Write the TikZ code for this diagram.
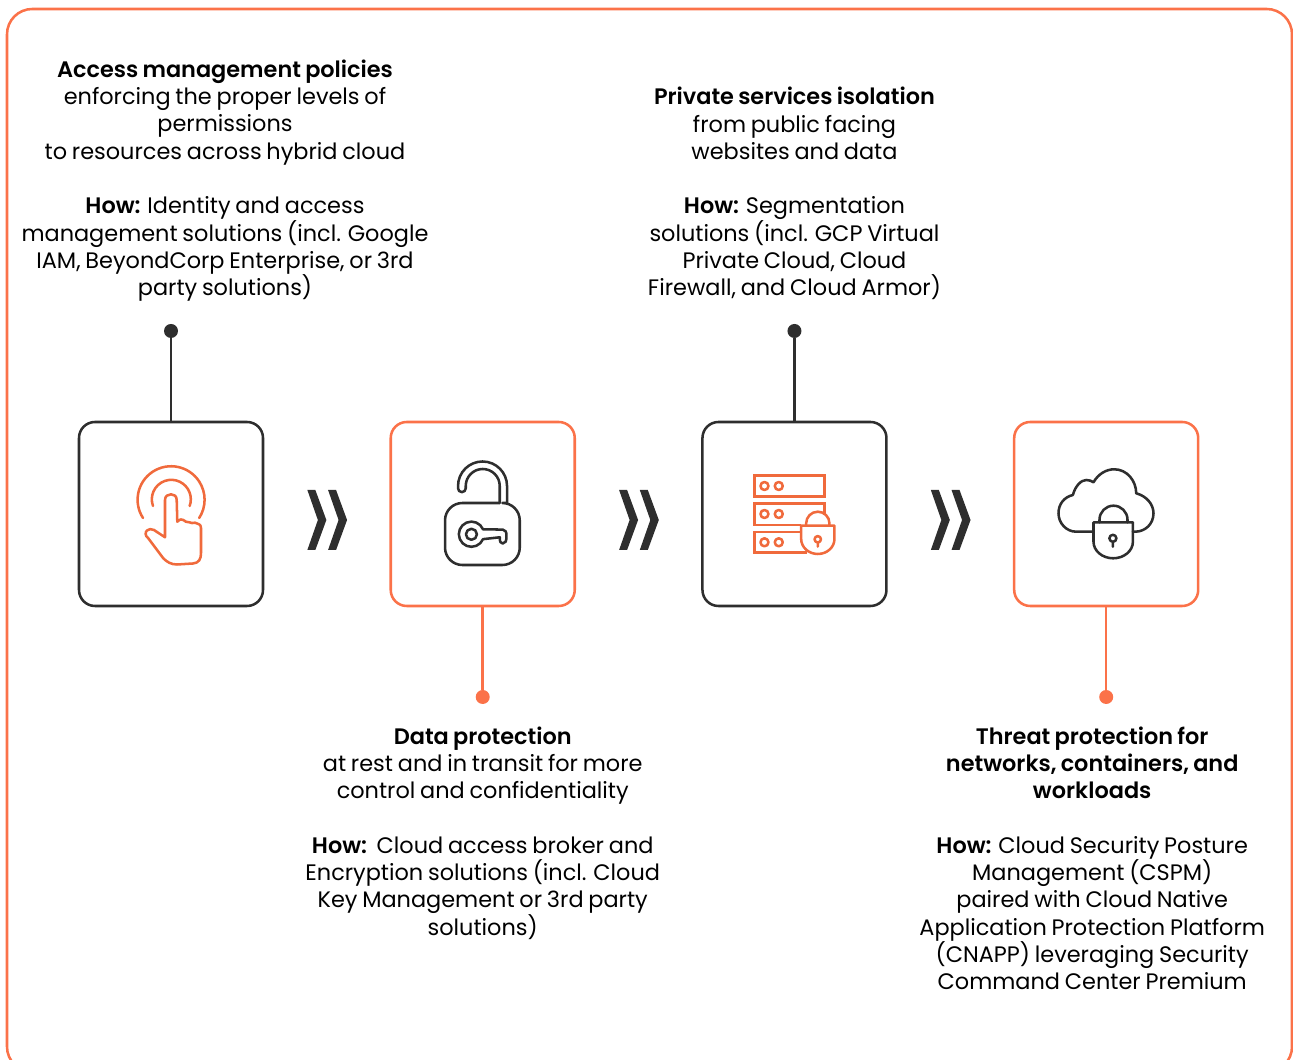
\documentclass[tikz,border=0pt]{standalone}
\usepackage{fontspec}
\setmainfont[WordSpace=0.8,BoldFont={Poppins SemiBold}]{Poppins}
\usepackage{tikz}
\usetikzlibrary{calc,positioning}

\definecolor{orangeline}{HTML}{FB7249}
\definecolor{orangeicon}{HTML}{F06A3C}
\definecolor{darkline}{HTML}{2E2E2E}

\tikzset{
  iconline/.style={line width=1.9pt,line cap=round,line join=round},
  tile/.style={draw,line width=1.9pt,rounded corners=12pt,minimum size=138pt,inner sep=0pt},
  dot/.style={circle,fill,inner sep=0pt,minimum size=10.5pt},
  stem/.style={line width=1.9pt},
  blurb/.style={align=center,font=\fontsize{16.8}{20.45}\selectfont,text=black,inner sep=0pt},
  chevrons/.pic={
    \fill[darkline] (-19.5,30) -- (-11.5,30) -- (-0.5,0) -- (-11.5,-30) -- (-19.5,-30) -- (-9,0) -- cycle;
    \fill[darkline] (1.2,30) -- (9.2,30) -- (20.2,0) -- (9.2,-30) -- (1.2,-30) -- (11.7,0) -- cycle;
  },
  handicon/.pic={
    \draw[iconline,orangeicon] (-28,-4) arc[start angle=213,end angle=-33,radius=33.5];
    \draw[iconline,orangeicon] (-18,8) arc[start angle=200,end angle=-20,radius=19.5];
    \draw[iconline,orangeicon] (-6,-23.3) -- (-6,14) .. controls (-6,18) and (-3,19.7) .. (0,19.7)
      .. controls (3,19.7) and (5.7,18) .. (5.7,14) -- (6.3,-7.7) .. controls (9,-5) and (11,-5) .. (12.3,-6)
      .. controls (14,-8) and (16,-8) .. (18.3,-8.3) .. controls (20,-9.5) and (22,-9) .. (24,-8.7)
      .. controls (27,-10) and (30,-10) .. (30,-14) -- (30,-39) .. controls (30,-45) and (28,-49) .. (22,-49.5)
      -- (6,-50.5) .. controls (0,-50.5) and (-4,-48) .. (-7.7,-44.3) -- (-22.7,-24.3)
      .. controls (-26,-22) and (-26,-18) .. (-24,-16.5) .. controls (-22,-14.5) and (-20,-15) .. (-17,-16) -- cycle;
  },
  lockicon/.pic={
    \draw[iconline,darkline,rounded corners=13pt] (17,11) -- (-37.7,11) -- (-37.7,-51) -- (37,-51) -- (37,11) -- (24.3,11);
    \draw[iconline,darkline] (24.3,11) -- (24.3,28) arc[start angle=0,end angle=180,radius=24.5] -- (-24.7,25.7)
      arc[start angle=180,end angle=360,radius=3.85] -- (-17,28) arc[start angle=180,end angle=0,radius=17] -- (17,11);
    \draw[iconline,darkline] (-11.3,-20.3) circle[radius=5.5];
    \draw[iconline,darkline] (0.3,-15.3) arc[start angle=23,end angle=337,radius=12.6] -- (17,-23.3)
      .. controls (17,-28) and (18,-29.5) .. (20,-29.5) .. controls (23,-29.5) and (23.7,-27) .. (23.7,-22)
      .. controls (23.7,-18) and (23,-15.8) .. (20,-15.6) -- cycle;
  },
  servericon/.pic={
    \draw[iconline,orangeicon,line cap=butt,line join=miter] (-40,38.7) rectangle (30,17.7);
    \draw[iconline,orangeicon,line cap=butt,line join=miter] (30,-1) -- (30,10.3) -- (-40,10.3) -- (-40,-11) -- (6.7,-11);
    \draw[iconline,orangeicon,line cap=butt,line join=miter] (6.7,-18) -- (-40,-18) -- (-40,-38.3) -- (13,-38.3);
    \foreach \rowy in {28,0,-28.3} {
      \draw[iconline,orangeicon] (-30,\rowy) circle[radius=4] (-15.7,\rowy) circle[radius=4];
    }
    \draw[iconline,orangeicon] (6.7,-11.7) -- (40,-11.7) -- (40,-25)
      arc[start angle=0,end angle=-180,x radius=16.65,y radius=15] -- cycle;
    \draw[iconline,orangeicon] (11.7,-11.7) -- (11.7,-9.35) arc[start angle=180,end angle=0,radius=11.65] -- (35,-11.7);
    \draw[iconline,orangeicon] (23.3,-25.3) circle[radius=3.2] (23.3,-28.5) -- (23.3,-32.7);
  },
  cloudicon/.pic={
    \draw[iconline,darkline] (-12.7,-17.7) -- (-30,-17.7) .. controls (-40,-17.7) and (-47.7,-9) .. (-47.7,0.7)
      .. controls (-47.7,10) and (-42,17) .. (-33.3,19) .. controls (-31,28) and (-25,34) .. (-20,34)
      .. controls (-17,34) and (-14.5,33) .. (-12.7,31.7) .. controls (-8,40) and (0,44.7) .. (8,44.7)
      .. controls (21,44.7) and (30,33) .. (30,20.7) .. controls (40,18) and (47.3,10) .. (47.3,0.7)
      .. controls (47.3,-10) and (39,-17.7) .. (29,-17.7) -- (26.7,-17.7);
    \draw[iconline,darkline] (-12.7,-8.3) -- (26.7,-8.3) -- (26.7,-27.7)
      arc[start angle=0,end angle=-180,x radius=19.7,y radius=16.6] -- cycle;
    \draw[iconline,darkline] (-6.7,-8.3) -- (-6.7,-5.7) arc[start angle=180,end angle=0,radius=14] -- (21.3,-8.3);
    \draw[iconline,darkline] (6.7,-24.3) circle[radius=3.5] (6.7,-27.8) -- (6.7,-32.7);
  }
}

\begin{document}
\begin{tikzpicture}[x=0.75pt,y=0.75pt,on grid,node distance=233.8pt]
  \clip (0,0) rectangle (1293,1060);
  \draw[orangeline,line width=1.9pt,rounded corners=19pt] (7,-12) rectangle (1292,1051);

  \node[tile,darkline]   (box_0) at (171,546)   {};
  \node[tile,orangeline] (box_1) [right=of box_0] {};
  \node[tile,darkline]   (box_2) [right=of box_1] {};
  \node[tile,orangeline] (box_3) [right=of box_2] {};

  \node[dot,darkline]   (dot_0) [above=137.25pt of box_0] {};
  \node[dot,orangeline] (dot_1) [below=137.25pt of box_1] {};
  \node[dot,darkline]   (dot_2) [above=137.25pt of box_2] {};
  \node[dot,orangeline] (dot_3) [below=137.25pt of box_3] {};

  \path[stem,darkline]   (box_0) edge (dot_0);
  \path[stem,orangeline] (box_1) edge (dot_1);
  \path[stem,darkline]   (box_2) edge (dot_2);
  \path[stem,orangeline] (box_3) edge (dot_3);

  \pic at (box_0) {handicon};
  \pic at (box_1) {lockicon};
  \pic at (box_2) {servericon};
  \pic at (box_3) {cloudicon};

  \pic[yshift=-4.5pt] at ($(box_0)!0.5!(box_1)$) {chevrons};
  \pic[yshift=-4.5pt] at ($(box_1)!0.5!(box_2)$) {chevrons};
  \pic[yshift=-4.5pt] at ($(box_2)!0.5!(box_3)$) {chevrons};

  \node[blurb] (text_0) [above right=112.75pt and 40.5pt of dot_0]
    {\textbf{Access management policies}\\enforcing the proper levels of\\permissions\\to resources across hybrid cloud\\[20.45pt]\textbf{How:} Identity and access\\management solutions (incl. Google\\IAM, BeyondCorp Enterprise, or 3rd\\party solutions)};
  \node[blurb] (text_2) [above=103pt of dot_2]
    {\textbf{Private services isolation}\\from public facing\\websites and data\\[20.45pt]\textbf{How:} Segmentation\\solutions (incl. GCP Virtual\\Private Cloud, Cloud\\Firewall, and Cloud Armor)};
  \node[blurb] (text_1) [below=102pt of dot_1]
    {\textbf{Data protection}\\at rest and in transit for more\\control and confidentiality\\[20.45pt]\textbf{How:}\ \ Cloud access broker and\\Encryption solutions (incl. Cloud\\Key Management or 3rd party\\solutions)};
  \node[blurb] (text_3) [below left=121pt and 10.5pt of dot_3]
    {\textbf{Threat protection for}\\\textbf{networks, containers, and}\\\textbf{workloads}\\[20.45pt]\textbf{How:} Cloud Security Posture\\Management (CSPM)\\paired with Cloud Native\\Application Protection Platform\\(CNAPP) leveraging Security\\Command Center Premium};
\end{tikzpicture}
\end{document}
